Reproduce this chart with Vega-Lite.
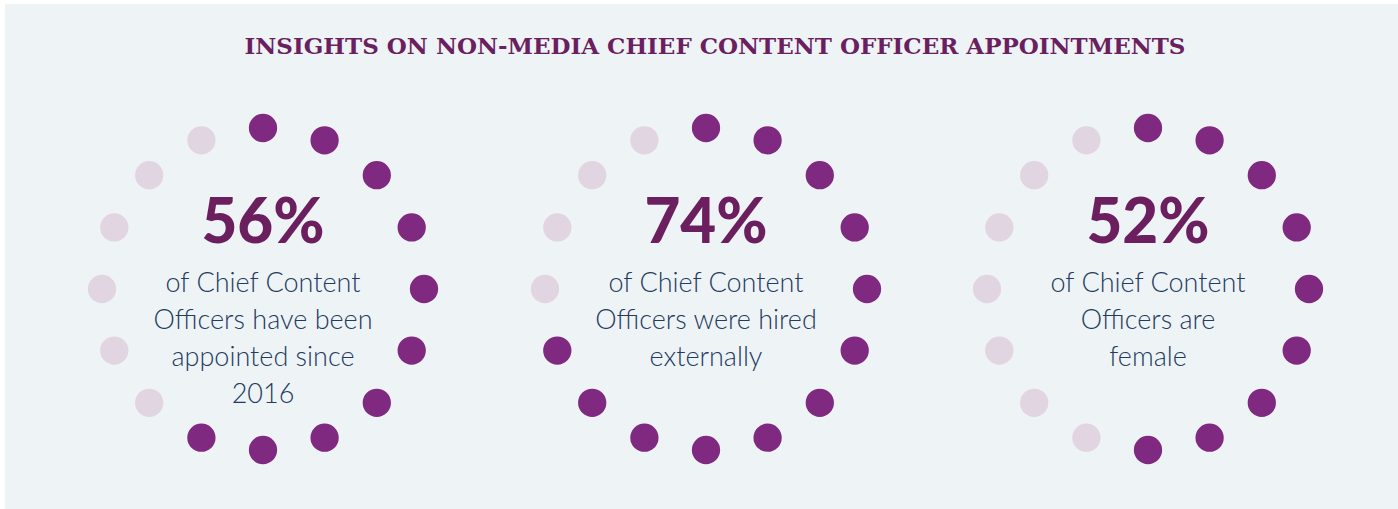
{
  "$schema": "https://vega.github.io/schema/vega-lite/v6.json",
  "width": 1398,
  "height": 509,
  "autosize": {"type": "fit", "contains": "padding"},
  "padding": {"left": 5, "top": 4, "right": 0, "bottom": 0},
  "background": "#ffffff",
  "config": {"view": {"stroke": null, "fill": "#EEF3F6"}},
  "datasets": {
    "dots": [
      {"ring": 1, "i": 0, "x": 263, "y": 128, "filled": "yes"},
      {"ring": 1, "i": 1, "x": 324.6, "y": 140.3, "filled": "yes"},
      {"ring": 1, "i": 2, "x": 376.8, "y": 175.2, "filled": "yes"},
      {"ring": 1, "i": 3, "x": 411.7, "y": 227.4, "filled": "yes"},
      {"ring": 1, "i": 4, "x": 424, "y": 289, "filled": "yes"},
      {"ring": 1, "i": 5, "x": 411.7, "y": 350.6, "filled": "yes"},
      {"ring": 1, "i": 6, "x": 376.8, "y": 402.8, "filled": "yes"},
      {"ring": 1, "i": 7, "x": 324.6, "y": 437.7, "filled": "yes"},
      {"ring": 1, "i": 8, "x": 263, "y": 450, "filled": "yes"},
      {"ring": 1, "i": 9, "x": 201.4, "y": 437.7, "filled": "yes"},
      {"ring": 1, "i": 10, "x": 149.2, "y": 402.8, "filled": "no"},
      {"ring": 1, "i": 11, "x": 114.3, "y": 350.6, "filled": "no"},
      {"ring": 1, "i": 12, "x": 102, "y": 289, "filled": "no"},
      {"ring": 1, "i": 13, "x": 114.3, "y": 227.4, "filled": "no"},
      {"ring": 1, "i": 14, "x": 149.2, "y": 175.2, "filled": "no"},
      {"ring": 1, "i": 15, "x": 201.4, "y": 140.3, "filled": "no"},
      {"ring": 2, "i": 0, "x": 706, "y": 128, "filled": "yes"},
      {"ring": 2, "i": 1, "x": 767.6, "y": 140.3, "filled": "yes"},
      {"ring": 2, "i": 2, "x": 819.8, "y": 175.2, "filled": "yes"},
      {"ring": 2, "i": 3, "x": 854.7, "y": 227.4, "filled": "yes"},
      {"ring": 2, "i": 4, "x": 867, "y": 289, "filled": "yes"},
      {"ring": 2, "i": 5, "x": 854.7, "y": 350.6, "filled": "yes"},
      {"ring": 2, "i": 6, "x": 819.8, "y": 402.8, "filled": "yes"},
      {"ring": 2, "i": 7, "x": 767.6, "y": 437.7, "filled": "yes"},
      {"ring": 2, "i": 8, "x": 706, "y": 450, "filled": "yes"},
      {"ring": 2, "i": 9, "x": 644.4, "y": 437.7, "filled": "yes"},
      {"ring": 2, "i": 10, "x": 592.2, "y": 402.8, "filled": "yes"},
      {"ring": 2, "i": 11, "x": 557.3, "y": 350.6, "filled": "yes"},
      {"ring": 2, "i": 12, "x": 545, "y": 289, "filled": "no"},
      {"ring": 2, "i": 13, "x": 557.3, "y": 227.4, "filled": "no"},
      {"ring": 2, "i": 14, "x": 592.2, "y": 175.2, "filled": "no"},
      {"ring": 2, "i": 15, "x": 644.4, "y": 140.3, "filled": "no"},
      {"ring": 3, "i": 0, "x": 1148, "y": 128, "filled": "yes"},
      {"ring": 3, "i": 1, "x": 1209.6, "y": 140.3, "filled": "yes"},
      {"ring": 3, "i": 2, "x": 1261.8, "y": 175.2, "filled": "yes"},
      {"ring": 3, "i": 3, "x": 1296.7, "y": 227.4, "filled": "yes"},
      {"ring": 3, "i": 4, "x": 1309, "y": 289, "filled": "yes"},
      {"ring": 3, "i": 5, "x": 1296.7, "y": 350.6, "filled": "yes"},
      {"ring": 3, "i": 6, "x": 1261.8, "y": 402.8, "filled": "yes"},
      {"ring": 3, "i": 7, "x": 1209.6, "y": 437.7, "filled": "yes"},
      {"ring": 3, "i": 8, "x": 1148, "y": 450, "filled": "yes"},
      {"ring": 3, "i": 9, "x": 1086.4, "y": 437.7, "filled": "no"},
      {"ring": 3, "i": 10, "x": 1034.2, "y": 402.8, "filled": "no"},
      {"ring": 3, "i": 11, "x": 999.3, "y": 350.6, "filled": "no"},
      {"ring": 3, "i": 12, "x": 987, "y": 289, "filled": "no"},
      {"ring": 3, "i": 13, "x": 999.3, "y": 227.4, "filled": "no"},
      {"ring": 3, "i": 14, "x": 1034.2, "y": 175.2, "filled": "no"},
      {"ring": 3, "i": 15, "x": 1086.4, "y": 140.3, "filled": "no"}
    ],
    "titles": [
      {"x": 715, "y": 47, "text": "INSIGHTS ON NON-MEDIA CHIEF CONTENT OFFICER APPOINTMENTS"}
    ],
    "pcts": [
      {"x": 263, "y": 224, "text": "56%"},
      {"x": 706, "y": 224, "text": "74%"},
      {"x": 1148, "y": 224, "text": "52%"}
    ],
    "body": [
      {"x": 263, "y": 284, "text": "of Chief Content"},
      {"x": 263, "y": 321, "text": "Officers have been"},
      {"x": 263, "y": 358, "text": "appointed since"},
      {"x": 263, "y": 395, "text": "2016"},
      {"x": 706, "y": 284, "text": "of Chief Content"},
      {"x": 706, "y": 321, "text": "Officers were hired"},
      {"x": 706, "y": 358, "text": "externally"},
      {"x": 1148, "y": 284, "text": "of Chief Content"},
      {"x": 1148, "y": 321, "text": "Officers are"},
      {"x": 1148, "y": 358, "text": "female"}
    ]
  },
  "encoding": {
    "x": {"field": "x", "type": "quantitative", "scale": {"domain": [5, 1398], "nice": false, "zero": false}, "axis": null},
    "y": {"field": "y", "type": "quantitative", "scale": {"domain": [4, 509], "nice": false, "zero": false, "reverse": true}, "axis": null}
  },
  "layer": [
    {
      "data": {"name": "dots"},
      "mark": {"type": "point", "filled": true, "size": 800, "opacity": 1, "shape": "circle"},
      "encoding": {
        "color": {"field": "filled", "type": "nominal", "scale": {"domain": ["yes", "no"], "range": ["#7F2A80", "#E1D5E1"]}, "legend": null}
      }
    },
    {
      "data": {"name": "titles"},
      "mark": {"type": "text", "font": "DejaVu Serif", "fontWeight": "bold", "fontSize": 23, "color": "#6A1F60", "align": "center", "baseline": "middle"},
      "encoding": {"text": {"field": "text"}}
    },
    {
      "data": {"name": "pcts"},
      "mark": {"type": "text", "font": "Lato", "fontWeight": 900, "fontSize": 62, "color": "#6B1F5F", "align": "center", "baseline": "middle"},
      "encoding": {"text": {"field": "text"}}
    },
    {
      "data": {"name": "body"},
      "mark": {"type": "text", "font": "Lato", "fontWeight": 300, "fontSize": 27, "color": "#243B5E", "align": "center", "baseline": "middle"},
      "encoding": {"text": {"field": "text"}}
    }
  ]
}
